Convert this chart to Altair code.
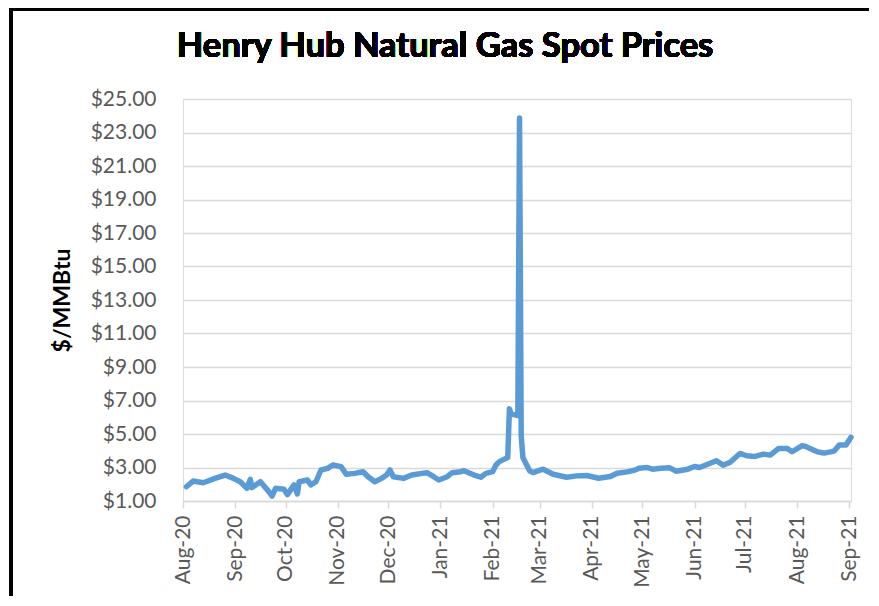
import altair as alt
import pandas as pd

dates = [
    "2020-08-03", "2020-08-07", "2020-08-13", "2020-08-20", "2020-08-26", "2020-08-31",
    "2020-09-04", "2020-09-08", "2020-09-10", "2020-09-11", "2020-09-16", "2020-09-21",
    "2020-09-23", "2020-09-25", "2020-09-30", "2020-10-02", "2020-10-06", "2020-10-08",
    "2020-10-09", "2020-10-14", "2020-10-16", "2020-10-19", "2020-10-22", "2020-10-26",
    "2020-10-29", "2020-11-03", "2020-11-06", "2020-11-11", "2020-11-16", "2020-11-19",
    "2020-11-23", "2020-11-27", "2020-11-30", "2020-12-02", "2020-12-04", "2020-12-10",
    "2020-12-15", "2020-12-21", "2020-12-24", "2020-12-28", "2020-12-31", "2021-01-05",
    "2021-01-08", "2021-01-13", "2021-01-15", "2021-01-21", "2021-01-25", "2021-01-28",
    "2021-02-01", "2021-02-03", "2021-02-05", "2021-02-08", "2021-02-10", "2021-02-11",
    "2021-02-12", "2021-02-16", "2021-02-17", "2021-02-18", "2021-02-19", "2021-02-22",
    "2021-02-23", "2021-02-25", "2021-03-03", "2021-03-09", "2021-03-17", "2021-03-23",
    "2021-03-29", "2021-04-05", "2021-04-12", "2021-04-16", "2021-04-22", "2021-04-27",
    "2021-04-29", "2021-05-04", "2021-05-07", "2021-05-12", "2021-05-17", "2021-05-21",
    "2021-05-28", "2021-06-01", "2021-06-04", "2021-06-14", "2021-06-18", "2021-06-22",
    "2021-06-28", "2021-07-02", "2021-07-07", "2021-07-12", "2021-07-16", "2021-07-21",
    "2021-07-26", "2021-07-29", "2021-08-04", "2021-08-06", "2021-08-13", "2021-08-17",
    "2021-08-23", "2021-08-26", "2021-08-30", "2021-09-02",
]
prices = [
    1.85, 2.19, 2.09, 2.35, 2.55, 2.35,
    2.15, 1.76, 2.30, 1.80, 2.15, 1.56,
    1.30, 1.76, 1.70, 1.38, 1.96, 1.42,
    2.15, 2.25, 1.96, 2.15, 2.85, 2.95,
    3.15, 3.05, 2.60, 2.65, 2.75, 2.45,
    2.15, 2.35, 2.55, 2.85, 2.45, 2.35,
    2.55, 2.65, 2.69, 2.45, 2.25, 2.45,
    2.69, 2.75, 2.81, 2.55, 2.42, 2.65,
    2.75, 3.15, 3.35, 3.50, 3.60, 6.50,
    6.20, 6.10, 23.86, 4.90, 3.60, 3.00,
    2.80, 2.70, 2.90, 2.60, 2.42, 2.50,
    2.52, 2.36, 2.46, 2.66, 2.74, 2.86,
    2.96, 3.00, 2.90, 2.96, 2.99, 2.78,
    2.90, 3.06, 3.00, 3.40, 3.14, 3.30,
    3.84, 3.70, 3.66, 3.80, 3.74, 4.14,
    4.14, 3.94, 4.30, 4.26, 3.94, 3.86,
    3.98, 4.34, 4.34, 4.80,
]

y_ticks = list(range(1, 26, 2))
month_ticks = [(2020, m) for m in range(8, 13)] + [(2021, m) for m in range(1, 10)]
title_text = "Henry Hub Natural Gas Spot Prices"

df = pd.DataFrame({"date": [d + "T00:00:00" for d in dates], "price": prices})

FONT = "Lato"
GRAY = "#595959"
GRID = "#D9D9D9"

line = alt.Chart(df).mark_line(color="#5B9BD5", strokeWidth=5.5, strokeJoin="round", strokeCap="round").encode(
    x=alt.X(
        "date:T",
        scale=alt.Scale(domain=[alt.DateTime(year=2020, month=8, date=1), alt.DateTime(year=2021, month=9, date=2)]),
        axis=alt.Axis(
            title=None,
            values=[alt.DateTime(year=y, month=m, date=1) for y, m in month_ticks],
            format="%b-%y",
            labelAngle=270,
            labelAlign="right",
            labelBaseline="middle",
            labelFont=FONT,
            labelFontSize=21,
            labelColor=GRAY,
            labelPadding=7,
            tickSize=7,
            tickColor=GRID,
            tickWidth=1.5,
            domainColor=GRID,
            domainWidth=1.5,
            grid=False,
            labelOverlap=False,
        ),
    ),
    y=alt.Y(
        "price:Q",
        scale=alt.Scale(domain=[1, 25], nice=False, zero=False),
        axis=alt.Axis(
            title="$/MMBtu",
            titleFont=FONT,
            titleFontSize=23,
            titleFontWeight="bold",
            titleColor="black",
            titleX=-121,
            titleY=201,
            titleAngle=270,
            titleAlign="center",
            titleBaseline="middle",
            values=y_ticks,
            format="$.2f",
            labelFont=FONT,
            labelFontSize=21,
            labelColor=GRAY,
            labelPadding=27,
            ticks=False,
            domain=False,
            grid=True,
            gridColor=GRID,
            gridWidth=1.5,
        ),
    ),
)

title = alt.Chart(df).mark_text(
    text=title_text, font=FONT, fontSize=34.5, fontWeight="bold", color="black",
    align="center", baseline="alphabetic", clip=False,
).encode(x=alt.value(262), y=alt.value(-42))

left_border = alt.Chart(df).mark_rule(color="black", strokeWidth=2.5, clip=False).encode(
    x=alt.value(-172), y=alt.value(-91), y2=alt.value(497)
)
top_border = alt.Chart(df).mark_rule(color="black", strokeWidth=2.5, clip=False).encode(
    x=alt.value(-173), x2=alt.value(686), y=alt.value(-90)
)

chart = alt.layer(line, title, left_border, top_border).properties(
    width=668,
    height=402,
    autosize=alt.AutoSizeParams(type="none"),
    padding={"left": 175, "top": 91, "right": 18, "bottom": 95},
).configure_view(stroke=None).configure(background="white")

chart.save("out.html", embed_options={"renderer": "svg", "actions": False})
